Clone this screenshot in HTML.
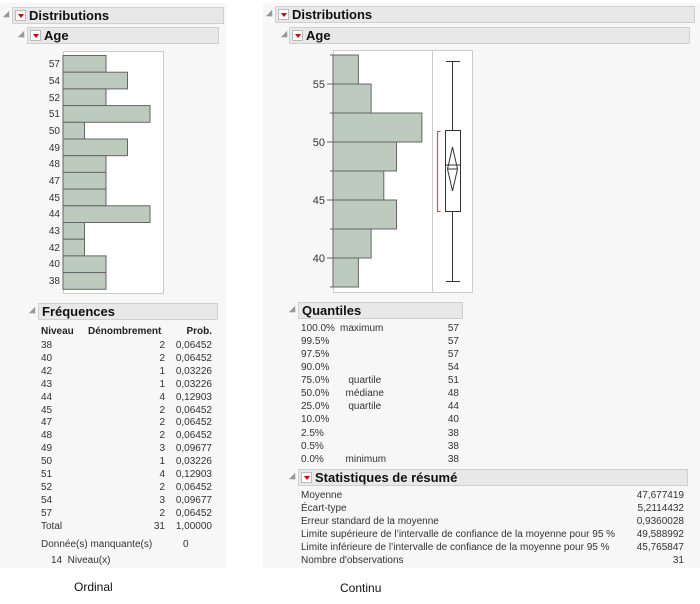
<!DOCTYPE html>
<html><head><meta charset="utf-8"><style>
body{margin:0;width:700px;height:604px;background:#fff;position:relative;font-family:"Liberation Sans",sans-serif;color:#333;overflow:hidden}
.a{position:absolute;white-space:nowrap;font-size:10px;line-height:12px}
.r{text-align:right}
.panel{position:absolute;background:#f7f7f7}
.hd{position:absolute;background:#e8e8e8;border:1px solid #d0d0d0;font-weight:bold;font-size:13px;line-height:15px;color:#111;box-sizing:border-box;height:17px}
.tri{position:absolute;width:0;height:0;border-left:4px solid transparent;border-right:4px solid #999;border-top:4px solid transparent;border-bottom:4px solid #999;transform:scale(0.8)}
.ic{display:inline-block;width:11px;height:11px;background:#fff;border:1px solid #bbb;box-sizing:border-box;vertical-align:-1px;margin:0 3px 0 2px;position:relative}
.ic:after{content:"";position:absolute;left:2px;top:3px;border-left:3px solid transparent;border-right:3px solid transparent;border-top:4px solid #d00}
</style></head><body>
<div class="panel" style="left:0;top:3px;width:226px;height:565px"></div>
<div class="panel" style="left:263px;top:3px;width:437px;height:565px"></div>

<!-- LEFT -->
<div class="tri" style="left:2px;top:10px"></div>
<div class="hd" style="left:12px;top:7px;width:212px"><span class="ic"></span>Distributions</div>
<div class="tri" style="left:17px;top:30px"></div>
<div class="hd" style="left:27px;top:27px;width:192px"><span class="ic"></span>Age</div>
<svg style="position:absolute;left:0;top:0" width="230" height="300">
<rect x="63.5" y="51.5" width="100" height="242" fill="#fff" stroke="#ccc"/>
<g fill="#bccbbd" stroke="#666" stroke-width="1">
<rect x="63" y="55.5" width="43" height="16.7"/>
<rect x="63" y="72.2" width="64.5" height="16.7"/>
<rect x="63" y="88.9" width="43" height="16.7"/>
<rect x="63" y="105.6" width="87" height="16.7"/>
<rect x="63" y="122.3" width="21.5" height="16.7"/>
<rect x="63" y="139" width="64.5" height="16.7"/>
<rect x="63" y="155.7" width="43" height="16.7"/>
<rect x="63" y="172.4" width="43" height="16.7"/>
<rect x="63" y="189.1" width="43" height="16.7"/>
<rect x="63" y="205.8" width="87" height="16.7"/>
<rect x="63" y="222.5" width="21.5" height="16.7"/>
<rect x="63" y="239.2" width="21.5" height="16.7"/>
<rect x="63" y="255.9" width="43" height="16.7"/>
<rect x="63" y="272.6" width="43" height="16.7"/>
</g>
<g font-size="10" fill="#333" text-anchor="end" font-family="Liberation Sans">
<text x="60" y="67">57</text><text x="60" y="84">54</text><text x="60" y="101">52</text><text x="60" y="117">51</text><text x="60" y="134">50</text><text x="60" y="151">49</text><text x="60" y="167">48</text><text x="60" y="184">47</text><text x="60" y="201">45</text><text x="60" y="217">44</text><text x="60" y="234">43</text><text x="60" y="251">42</text><text x="60" y="267">40</text><text x="60" y="284">38</text>
</g>
</svg>
<div class="tri" style="left:28px;top:306px"></div>
<div class="hd" style="left:38px;top:303px;width:180px;padding-left:3px">Fréquences</div>
<div class="a" style="left:41px;top:326px;font-weight:bold;color:#222">Niveau</div>
<div class="a" style="left:88px;top:326px;font-weight:bold;color:#222">Dénombrement</div>
<div class="a r" style="left:170px;top:326px;width:42px;font-weight:bold;color:#222">Prob.</div>
<div class="a" style="left:41px;top:340px;line-height:12.9px">38<br>40<br>42<br>43<br>44<br>45<br>47<br>48<br>49<br>50<br>51<br>52<br>54<br>57<br>Total</div>
<div class="a r" style="left:140px;top:340px;width:25px;line-height:12.9px">2<br>2<br>1<br>1<br>4<br>2<br>2<br>2<br>3<br>1<br>4<br>2<br>3<br>2<br>31</div>
<div class="a r" style="left:160px;top:340px;width:52px;line-height:12.9px">0,06452<br>0,06452<br>0,03226<br>0,03226<br>0,12903<br>0,06452<br>0,06452<br>0,06452<br>0,09677<br>0,03226<br>0,12903<br>0,06452<br>0,09677<br>0,06452<br>1,00000</div>
<div class="a" style="left:41px;top:539px">Donnée(s) manquante(s)</div>
<div class="a" style="left:183px;top:539px">0</div>
<div class="a" style="left:51px;top:555px">14&nbsp; Niveau(x)</div>
<div class="a" style="left:74px;top:580px;font-size:12px;line-height:14px;color:#111">Ordinal</div>

<!-- RIGHT -->
<div class="tri" style="left:265px;top:9px"></div>
<div class="hd" style="left:275px;top:6px;width:420px"><span class="ic"></span>Distributions</div>
<div class="tri" style="left:280px;top:30px"></div>
<div class="hd" style="left:289px;top:27px;width:401px"><span class="ic"></span>Age</div>
<svg style="position:absolute;left:263px;top:0" width="437" height="300">
<g transform="translate(-263,0)">
<rect x="333.5" y="50.5" width="139" height="242" fill="#fff" stroke="#ccc"/>
<line x1="432.5" y1="51" x2="432.5" y2="292" stroke="#ccc"/>
<g fill="#bccbbd" stroke="#666">
<rect x="333" y="55" width="25.4" height="29"/>
<rect x="333" y="84" width="38.1" height="29"/>
<rect x="333" y="113" width="88.9" height="29"/>
<rect x="333" y="142" width="63.5" height="29"/>
<rect x="333" y="171" width="50.8" height="29"/>
<rect x="333" y="200" width="63.5" height="29"/>
<rect x="333" y="229" width="38.1" height="29"/>
<rect x="333" y="258" width="25.4" height="29"/>
</g>
<g stroke="#666"><line x1="327" y1="84" x2="333" y2="84"/><line x1="327" y1="142" x2="333" y2="142"/><line x1="327" y1="200" x2="333" y2="200"/><line x1="327" y1="258" x2="333" y2="258"/>
<line x1="330" y1="55" x2="333" y2="55"/><line x1="330" y1="113" x2="333" y2="113"/><line x1="330" y1="171" x2="333" y2="171"/><line x1="330" y1="229" x2="333" y2="229"/><line x1="330" y1="287" x2="333" y2="287"/></g>
<g font-size="11" fill="#333" text-anchor="end" font-family="Liberation Sans">
<text x="325" y="88">55</text><text x="325" y="146">50</text><text x="325" y="204">45</text><text x="325" y="262">40</text></g>
<g stroke="#333" fill="none">
<line x1="452.5" y1="61" x2="452.5" y2="130"/><line x1="452.5" y1="212" x2="452.5" y2="281"/>
<line x1="446" y1="61.5" x2="460" y2="61.5"/><line x1="446" y1="281.5" x2="460" y2="281.5"/>
<rect x="445.5" y="130.5" width="15" height="81" fill="#fff"/>
<line x1="445" y1="165" x2="461" y2="165"/>
<polygon points="452.5,147 457.5,169 452.5,191 447.5,169"/>
<line x1="447.5" y1="169" x2="457.5" y2="169"/>
</g>
<path d="M440.5,131.5 H437.5 V211.5 H440.5" stroke="#f04848" stroke-width="1.2" fill="none"/>
</g>
</svg>
<div class="tri" style="left:288px;top:305px"></div>
<div class="hd" style="left:298px;top:302px;width:165px;padding-left:3px">Quantiles</div>
<div class="a" style="left:301px;top:322px;line-height:13.07px">100.0%<br>99.5%<br>97.5%<br>90.0%<br>75.0%<br>50.0%<br>25.0%<br>10.0%<br>2.5%<br>0.5%<br>0.0%</div>
<div class="a" style="left:340px;top:322px;line-height:13.07px">maximum<br><br><br><br>&nbsp;&nbsp;&nbsp;quartile<br>&nbsp;&nbsp;médiane<br>&nbsp;&nbsp;&nbsp;quartile<br><br><br><br>&nbsp;&nbsp;minimum</div>
<div class="a r" style="left:420px;top:322px;width:39px;line-height:13.07px">57<br>57<br>57<br>54<br>51<br>48<br>44<br>40<br>38<br>38<br>38</div>
<div class="tri" style="left:288px;top:472px"></div>
<div class="hd" style="left:298px;top:469px;width:390px"><span class="ic"></span>Statistiques de résumé</div>
<div class="a" style="left:301px;top:489px;line-height:13.1px">Moyenne<br>Écart-type<br>Erreur standard de la moyenne<br>Limite supérieure de l’intervalle de confiance de la moyenne pour 95 %<br>Limite inférieure de l’intervalle de confiance de la moyenne pour 95 %<br>Nombre d'observations</div>
<div class="a r" style="left:600px;top:489px;width:84px;line-height:13.1px">47,677419<br>5,2114432<br>0,9360028<br>49,588992<br>45,765847<br>31</div>
<div class="a" style="left:340px;top:581px;font-size:12px;line-height:14px;color:#111">Continu</div>
</body></html>
